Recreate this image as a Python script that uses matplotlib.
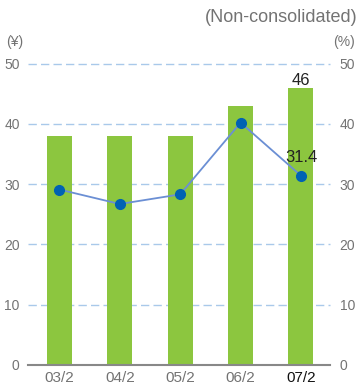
import numpy as np
import matplotlib.pyplot as plt

# data
years = ['03/2', '04/2', '05/2', '06/2', '07/2']
dividend = [38, 38, 38, 43, 46]          # bars, yen (left axis)
payout = [29.1, 26.7, 28.3, 40.2, 31.4]  # line, % (right axis)
yticks = [0, 10, 20, 30, 40, 50]

plt.rcParams['font.family'] = ['Liberation Sans', 'DejaVu Sans']

fig = plt.figure(dpi=100, figsize=[3.61, 3.89])
ax1 = fig.add_axes([0.0776, 0.0617, 0.8364, 0.7750])
ax2 = ax1.twinx()

x = np.arange(len(years))
ax1.bar(x, dividend, width=0.415, color='#8cc63f', zorder=2)
ax2.plot(x, payout, color='#6b8fd4', linewidth=1.3, marker='o', markersize=7,
         markerfacecolor='#0062b3', markeredgecolor='#0062b3', zorder=3,
         clip_on=False)

for ax in (ax1, ax2):
    ax.set_ylim(0, 50)
    ax.set_yticks(yticks)
    for s in ax.spines.values():
        s.set_visible(False)
    ax.tick_params(axis='y', length=0, labelsize=10, labelcolor='#737373')
ax1.tick_params(axis='y', pad=6)
ax2.tick_params(axis='y', pad=7)

ax1.set_xlim(-0.52, 4.48)
ax1.set_xticks(x)
ax1.set_xticklabels(years)
ax1.tick_params(axis='x', length=0, labelsize=11, labelcolor='#737373', pad=4)
xl = ax1.get_xticklabels()
xl[-1].set_color('#111111')

# grid
for v in yticks[1:]:
    ax1.axhline(v, color='#a9c9ea', linewidth=1, dashes=(6, 3), zorder=1,
                clip_on=False)
ax1.spines['bottom'].set_visible(True)
ax1.spines['bottom'].set_color('#888888')
ax1.spines['bottom'].set_linewidth(1.5)

# value labels
ax1.text(x[-1], dividend[-1] + 0.5, '46', ha='center', va='baseline',
         fontsize=12, color='#222222')
ax2.text(x[-1], payout[-1] + 2.2, '31.4', ha='center', va='baseline',
         fontsize=12, color='#222222')

# unit labels
fig.text(23 / 361, 1 - 42 / 389, '(¥)', ha='right', va='center',
         fontsize=10, color='#737373')
fig.text(333 / 361, 1 - 42 / 389, '(%)', ha='left', va='center',
         fontsize=10, color='#737373')
fig.text(358 / 361, 1 - 17 / 389, '(Non-consolidated)', ha='right',
         va='center', fontsize=13, color='#737373')

plt.savefig('out.png', format='png')
